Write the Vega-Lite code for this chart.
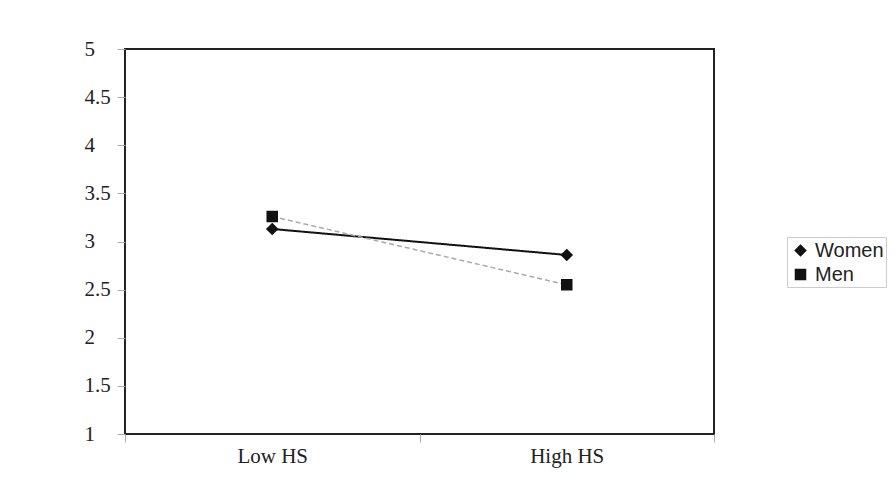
{
  "$schema": "https://vega.github.io/schema/vega-lite/v6.json",
  "autosize": {"type": "none"},
  "width": 589,
  "height": 385,
  "padding": {"left": 125, "top": 49, "right": 182, "bottom": 64},
  "background": "white",
  "config": {
    "view": {"stroke": "#222", "strokeWidth": 2},
    "axis": {"grid": false, "domain": false, "tickColor": "#aaa", "tickSize": 8, "labelFont": "Liberation Serif", "labelFontSize": 21, "labelColor": "#222", "title": null}
  },
  "data": {
    "values": [
      {"hs": "Low HS", "group": "Women", "value": 3.13},
      {"hs": "High HS", "group": "Women", "value": 2.86},
      {"hs": "Low HS", "group": "Men", "value": 3.26},
      {"hs": "High HS", "group": "Men", "value": 2.55}
    ]
  },
  "encoding": {
    "x": {"field": "hs", "type": "nominal", "sort": ["Low HS", "High HS"],
      "scale": {"paddingInner": 0, "paddingOuter": 0},
      "axis": {"labelAngle": 0, "tickBand": "extent", "labelPadding": 3}},
    "y": {"field": "value", "type": "quantitative",
      "scale": {"domain": [1, 5], "nice": false, "zero": false},
      "axis": {"values": [1, 1.5, 2, 2.5, 3, 3.5, 4, 4.5, 5], "format": "~g", "labelAlign": "left", "labelPadding": 33}}
  },
  "layer": [
    {
      "mark": {"type": "line"},
      "encoding": {
        "color": {"field": "group", "type": "nominal", "scale": {"domain": ["Women", "Men"], "range": ["#111", "#aaa"]}, "legend": null},
        "strokeDash": {"field": "group", "type": "nominal", "scale": {"domain": ["Women", "Men"], "range": [[1, 0], [5, 3]]}, "legend": null},
        "strokeWidth": {"field": "group", "type": "nominal", "scale": {"domain": ["Women", "Men"], "range": [2, 1.5]}, "legend": null}
      }
    },
    {
      "mark": {"type": "point", "filled": true, "color": "#111", "opacity": 1, "size": 440},
      "encoding": {
        "shape": {"field": "group", "type": "nominal",
          "scale": {"domain": ["Women", "Men"], "range": ["M-1,0H1M0,-0.6L0.6,0L0,0.6L-0.6,0Z", "M-1,0H1M-0.55,-0.55H0.55V0.55H-0.55Z"]},
          "legend": {"title": null, "orient": "none", "legendX": 662, "legendY": 188,
            "labelFont": "Liberation Sans", "labelFontSize": 20, "labelColor": "#222", "labelOffset": 3,
            "symbolSize": 440, "strokeColor": "#ccc", "padding": 2, "rowPadding": 2,
            "symbolStrokeColor": "#111", "symbolStrokeWidth": 1.5, "symbolFillColor": "#111",
            "encode": {"symbols": {"update": {"stroke": {"value": "#111"}, "strokeWidth": {"value": 1.5}, "fill": {"value": "#111"}, "opacity": {"value": 1}}}}}
        }
      }
    }
  ],
  "resolve": {"legend": {"color": "independent", "strokeDash": "independent", "strokeWidth": "independent", "shape": "independent"}}
}
